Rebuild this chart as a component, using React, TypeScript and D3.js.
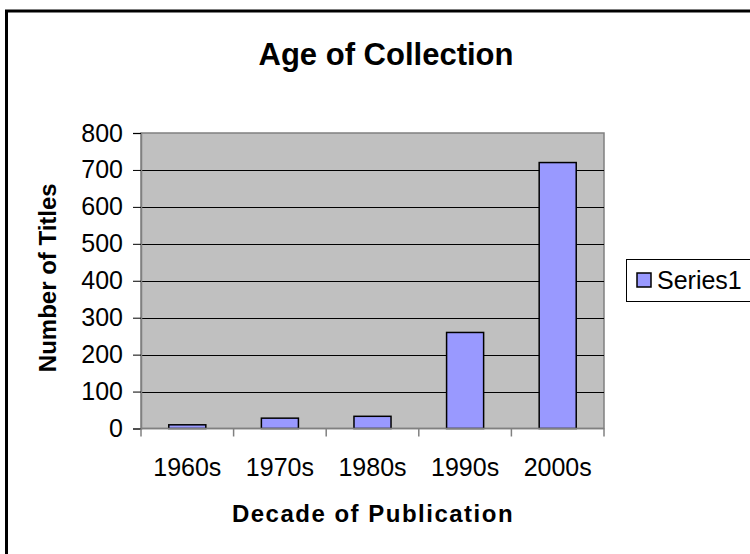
import * as d3 from "d3";
import { useEffect, useRef } from "react";

const categories = ["1960s", "1970s", "1980s", "1990s", "2000s"];
const values = [10, 28, 33, 260, 720];
const yTicks = [0, 100, 200, 300, 400, 500, 600, 700, 800];
const seriesName = "Series1";

export default function App() {
  const svgRef = useRef<SVGSVGElement | null>(null);

  useEffect(() => {
    if (!svgRef.current) return;
    const svg = d3.select(svgRef.current);
    svg.selectAll("*").remove();

    const width = 750;
    const height = 554;
    const font = "'Liberation Sans', Arial, sans-serif";
    const plot = { left: 141, right: 604, top: 133, bottom: 428.5 };

    svg.attr("width", width).attr("height", height);

    svg.append("rect").attr("width", width).attr("height", height).attr("fill", "#fff");

    // chart frame, runs off the right and bottom edges
    svg
      .append("rect")
      .attr("x", 6.5)
      .attr("y", 11)
      .attr("width", 900)
      .attr("height", 700)
      .attr("fill", "none")
      .attr("stroke", "#000")
      .attr("stroke-width", 3);

    const x = d3
      .scaleBand()
      .domain(categories)
      .range([plot.left, plot.right])
      .paddingInner(0.6)
      .paddingOuter(0.3);
    const xOuter = d3.scaleBand().domain(categories).range([plot.left, plot.right]);

    const y = d3.scaleLinear().domain([0, 800]).range([plot.bottom, plot.top]);

    svg
      .append("rect")
      .attr("x", plot.left)
      .attr("y", plot.top)
      .attr("width", plot.right - plot.left)
      .attr("height", plot.bottom - plot.top)
      .attr("fill", "#c0c0c0")
      .attr("stroke", "#808080")
      .attr("stroke-width", 1.5);

    svg
      .append("g")
      .selectAll("line")
      .data(yTicks.filter((t) => t > 0 && t < 800))
      .join("line")
      .attr("x1", plot.left)
      .attr("x2", plot.right)
      .attr("y1", (d) => Math.round(y(d)) + 0.5)
      .attr("y2", (d) => Math.round(y(d)) + 0.5)
      .attr("stroke", "#000")
      .attr("stroke-width", 1);

    svg
      .append("g")
      .selectAll("rect")
      .data(values)
      .join("rect")
      .attr("x", (_, i) => x(categories[i]) as number)
      .attr("y", (d) => y(d))
      .attr("width", x.bandwidth())
      .attr("height", (d) => y(0) - y(d))
      .attr("fill", "#9999ff")
      .attr("stroke", "#000")
      .attr("stroke-width", 1.5);

    // y axis
    const yAxis = d3.axisLeft(y).tickValues(yTicks).tickSize(8).tickPadding(10);
    const yg = svg.append("g").attr("transform", `translate(${plot.left},0)`).call(yAxis as any);
    yg.select(".domain").attr("stroke", "#808080").attr("stroke-width", 1.5);
    yg.selectAll("line").attr("stroke", "#000");
    yg.selectAll("text")
      .attr("font-family", font)
      .attr("font-size", 25)
      .attr("fill", "#000");

    // x axis
    const xTickPos = [...categories.map((c) => xOuter(c) as number), plot.right];
    const xg = svg.append("g");
    xg.append("line")
      .attr("x1", plot.left)
      .attr("x2", plot.right)
      .attr("y1", plot.bottom)
      .attr("y2", plot.bottom)
      .attr("stroke", "#808080")
      .attr("stroke-width", 1.5);
    xg.selectAll("line.tick")
      .data(xTickPos)
      .join("line")
      .attr("class", "tick")
      .attr("x1", (d) => d)
      .attr("x2", (d) => d)
      .attr("y1", plot.bottom)
      .attr("y2", plot.bottom + 8)
      .attr("stroke", "#808080")
      .attr("stroke-width", 1.5);
    xg.selectAll("text")
      .data(categories)
      .join("text")
      .attr("x", (d) => (xOuter(d) as number) + xOuter.bandwidth() / 2)
      .attr("y", 476)
      .attr("text-anchor", "middle")
      .attr("font-family", font)
      .attr("font-size", 25)
      .text((d) => d);

    // titles
    svg
      .append("text")
      .attr("x", 386)
      .attr("y", 65)
      .attr("text-anchor", "middle")
      .attr("font-family", font)
      .attr("font-weight", "bold")
      .attr("font-size", 31)
      .text("Age of Collection");

    svg
      .append("text")
      .attr("x", 373)
      .attr("y", 522)
      .attr("text-anchor", "middle")
      .attr("font-family", font)
      .attr("font-weight", "bold")
      .attr("font-size", 24)
      .attr("letter-spacing", 1.5)
      .text("Decade of Publication");

    svg
      .append("text")
      .attr("transform", `translate(56,${(plot.top + plot.bottom) / 2 - 3}) rotate(-90)`)
      .attr("text-anchor", "middle")
      .attr("font-family", font)
      .attr("font-weight", "bold")
      .attr("font-size", 24)
      .text("Number of Titles");

    // legend
    const lg = svg.append("g");
    lg.append("rect")
      .attr("x", 626.5)
      .attr("y", 259.5)
      .attr("width", 200)
      .attr("height", 42)
      .attr("fill", "#fff")
      .attr("stroke", "#000")
      .attr("stroke-width", 1);
    lg.append("rect")
      .attr("x", 637)
      .attr("y", 273)
      .attr("width", 14)
      .attr("height", 14)
      .attr("fill", "#9999ff")
      .attr("stroke", "#000")
      .attr("stroke-width", 1.5);
    lg.append("text")
      .attr("x", 657)
      .attr("y", 289)
      .attr("font-family", font)
      .attr("font-size", 25)
      .text(seriesName);
  }, []);

  return (
    <svg
      ref={svgRef}
      style={{ position: "absolute", left: 0, top: 0, display: "block" }}
    />
  );
}
